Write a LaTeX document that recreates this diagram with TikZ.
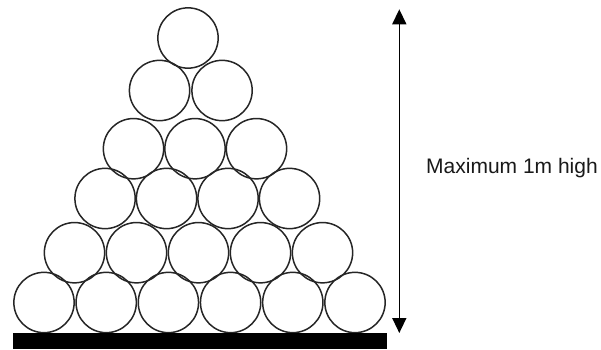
\documentclass[tikz,border=0pt]{standalone}
\usepackage{fontspec}
\setmainfont{Liberation Sans}
\usetikzlibrary{arrows.meta}
\begin{document}
\begin{tikzpicture}[x=1pt,y=1pt,
  ball/.style={circle,draw=black!85,line width=1.5pt,minimum size=60.3pt,inner sep=0pt},
  dim/.style={line width=1.5pt,{Triangle[width=14pt,length=15pt]}-{Triangle[width=14pt,length=15pt]}},
  lbl/.style={font=\fontsize{21}{25}\selectfont,inner sep=0pt,anchor=base west,text=black!90}]
\useasboundingbox (0,0) rectangle (601,349);
% rows: row index / y (image) / mid x / spacing / count
\foreach \r/\yy/\mx/\sp/\n in {1/38/188/62/1, 2/90.5/190.8/62.5/2, 3/148.7/195/61.5/3, 4/198.5/197.3/61.5/4, 5/252.7/198.5/62/5, 6/302.5/199.5/62.2/6}{
  \foreach \i in {1,...,\n}{
    \node[ball] (c\r-\i) at ({\mx+(\i-(\n+1)/2)*\sp},{349-\yy}) {};
  }
}
\fill[black] (12.7,0) rectangle (387,16) node[coordinate] (base) {};
\coordinate (top) at (399.3,339.7);
\coordinate (bot) at (399.3,16);
\draw[dim] (bot) -- (top);
\node[lbl] (txt) at (426,175.7) {Maximum 1m high};
\end{tikzpicture}
\end{document}
